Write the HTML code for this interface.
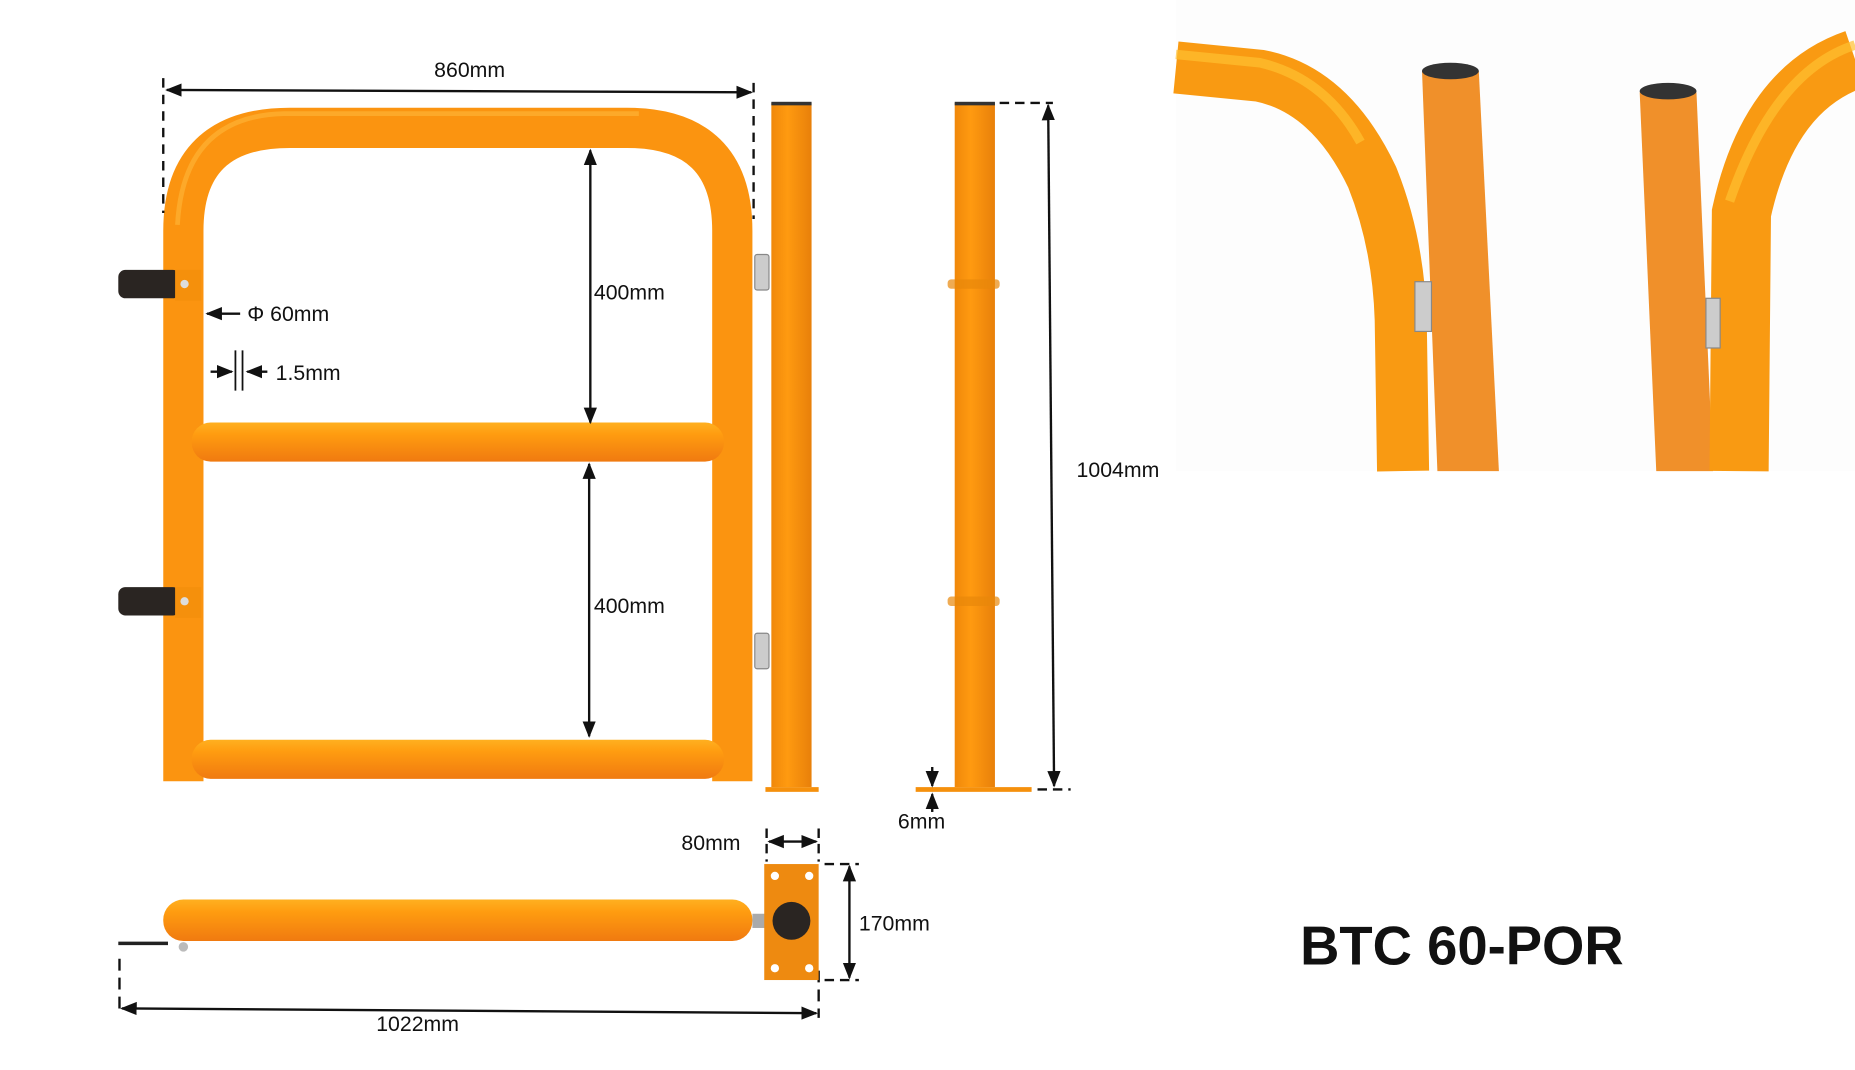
<!DOCTYPE html>
<html><head><meta charset="utf-8"><style>
html,body{margin:0;padding:0;background:#fff;width:1855px;height:1070px;overflow:hidden}
svg{display:block}
text{font-family:"Liberation Sans",sans-serif;fill:#111}
</style></head><body>
<svg width="1855" height="1070" viewBox="0 0 1568 904" preserveAspectRatio="none" xmlns="http://www.w3.org/2000/svg">
<defs>
<linearGradient id="tv" x1="0" y1="0" x2="1" y2="0"><stop offset="0" stop-color="#f0880a"/><stop offset=".4" stop-color="#ff9a10"/><stop offset="1" stop-color="#e8800a"/></linearGradient>
<linearGradient id="th" x1="0" y1="0" x2="0" y2="1"><stop offset="0" stop-color="#ffb020"/><stop offset=".3" stop-color="#ff9c10"/><stop offset="1" stop-color="#f07a10"/></linearGradient>
<marker id="a" viewBox="0 0 10 10" refX="9" refY="5" markerWidth="7" markerHeight="7" orient="auto-start-reverse"><path d="M0,1L10,5L0,9z" fill="#111"/></marker>
</defs>
<path d="M155,660 L155,195 Q155,108 245,108 L530,108 Q619,108 619,195 L619,660" fill="none" stroke="#fb9410" stroke-width="34"/>
<path d="M150,190 Q155,98 240,96 L540,96" fill="none" stroke="#ffb83a" stroke-width="4" opacity=".6"/>
<rect x="162" y="357" width="450" height="33" rx="16" fill="url(#th)"/>
<rect x="162" y="625" width="450" height="33" rx="16" fill="url(#th)"/>
<rect x="100" y="228" width="52" height="24" rx="6" fill="#2a2522"/>
<rect x="148" y="228" width="22" height="26" fill="#f5900c"/>
<circle cx="156" cy="240" r="3.5" fill="#ddd"/>
<rect x="100" y="496" width="52" height="24" rx="6" fill="#2a2522"/>
<rect x="148" y="496" width="22" height="26" fill="#f5900c"/>
<circle cx="156" cy="508" r="3.5" fill="#ddd"/>
<rect x="638" y="215" width="12" height="30" rx="2" fill="#ccc" stroke="#888"/>
<rect x="638" y="535" width="12" height="30" rx="2" fill="#ccc" stroke="#888"/>
<rect x="652" y="87" width="34" height="578" fill="url(#tv)"/>
<rect x="652" y="86" width="34" height="3" fill="#333"/>
<rect x="647" y="665" width="45" height="4" fill="#f5900c"/>
<rect x="807" y="87" width="34" height="578" fill="url(#tv)"/>
<rect x="807" y="86" width="34" height="3" fill="#333"/>
<rect x="774" y="665" width="98" height="4" fill="#f5900c"/>
<rect x="801" y="236" width="44" height="8" rx="3" fill="#e8870a" opacity=".7"/>
<rect x="801" y="504" width="44" height="8" rx="3" fill="#e8870a" opacity=".7"/>
<g stroke="#111" stroke-width="2" fill="none">
<path d="M138,66V180M637,70V185" stroke-dasharray="8,6"/>
<path d="M141,76L635,78" marker-start="url(#a)" marker-end="url(#a)"/>
<path d="M499,127V357" marker-start="url(#a)" marker-end="url(#a)"/>
<path d="M498,392V622" marker-start="url(#a)" marker-end="url(#a)"/>
<path d="M203,265H175" marker-end="url(#a)"/>
<path d="M178,314H196" marker-end="url(#a)"/>
<path d="M226,314H209" marker-end="url(#a)"/>
<path d="M199,296V330M205,296V330" stroke-width="1.5"/>
<path d="M845,87H890M877,667H905" stroke-dasharray="8,5"/>
<path d="M886,89L891,664" marker-start="url(#a)" marker-end="url(#a)"/>
<path d="M788,648V664" marker-end="url(#a)"/>
<path d="M788,686V671" marker-end="url(#a)"/>
<path d="M648,700V728M692,700V728" stroke-dasharray="8,5"/>
<path d="M650,711H690" marker-start="url(#a)" marker-end="url(#a)"/>
<path d="M697,730H726M697,828H726" stroke-dasharray="8,5"/>
<path d="M718,732V826" marker-start="url(#a)" marker-end="url(#a)"/>
<path d="M101,810V858M692,820V860" stroke-dasharray="10,6"/>
<path d="M103,852L690,856" marker-start="url(#a)" marker-end="url(#a)"/>
</g>
<text x="367" y="65" font-size="18">860mm</text>
<text x="502" y="253" font-size="18">400mm</text>
<text x="502" y="518" font-size="18">400mm</text>
<text x="209" y="271" font-size="18">Φ 60mm</text>
<text x="233" y="321" font-size="18">1.5mm</text>
<text x="910" y="403" font-size="18">1004mm</text>
<text x="759" y="700" font-size="18">6mm</text>
<text x="576" y="718" font-size="18">80mm</text>
<text x="726" y="786" font-size="18">170mm</text>
<text x="318" y="871" font-size="18">1022mm</text>
<path d="M100,797H142" stroke="#222" stroke-width="3"/>
<rect x="138" y="760" width="498" height="35" rx="17" fill="url(#th)"/>
<circle cx="155" cy="800" r="4" fill="#bbb"/>
<rect x="636" y="772" width="14" height="12" fill="#aaa"/>
<rect x="646" y="730" width="46" height="98" fill="#ee8a10"/>
<g fill="#fff"><circle cx="655" cy="740" r="3.5"/><circle cx="684" cy="740" r="3.5"/><circle cx="655" cy="818" r="3.5"/><circle cx="684" cy="818" r="3.5"/></g>
<circle cx="669" cy="778" r="16" fill="#2a2522"/>
<rect x="994" y="0" width="574" height="398" fill="#fdfdfd"/>
<path d="M994,57 L1065,64 Q1125,76 1160,150 Q1182,205 1184,270 L1186,398" fill="none" stroke="#f99a12" stroke-width="44"/>
<path d="M994,46 L1065,53 Q1120,66 1150,120" fill="none" stroke="#ffc030" stroke-width="8" opacity=".7"/>
<polygon points="1202,60 1250,60 1267,398 1215,398" fill="#f0902a"/>
<ellipse cx="1226" cy="60" rx="24" ry="7" fill="#333"/>
<rect x="1196" y="238" width="14" height="42" fill="#ccc" stroke="#888"/>
<polygon points="1386,78 1434,78 1448,398 1400,398" fill="#f0902a"/>
<ellipse cx="1410" cy="77" rx="24" ry="7" fill="#333"/>
<path d="M1568,50 Q1495,75 1472,180 L1470,398" fill="none" stroke="#f99a12" stroke-width="50"/>
<path d="M1568,38 Q1500,60 1462,170" fill="none" stroke="#ffc030" stroke-width="8" opacity=".7"/>
<rect x="1442" y="252" width="12" height="42" fill="#ccc" stroke="#888"/>
<text x="1099" y="815" font-size="46" font-weight="bold">BTC 60-POR</text>
</svg>
</body></html>
